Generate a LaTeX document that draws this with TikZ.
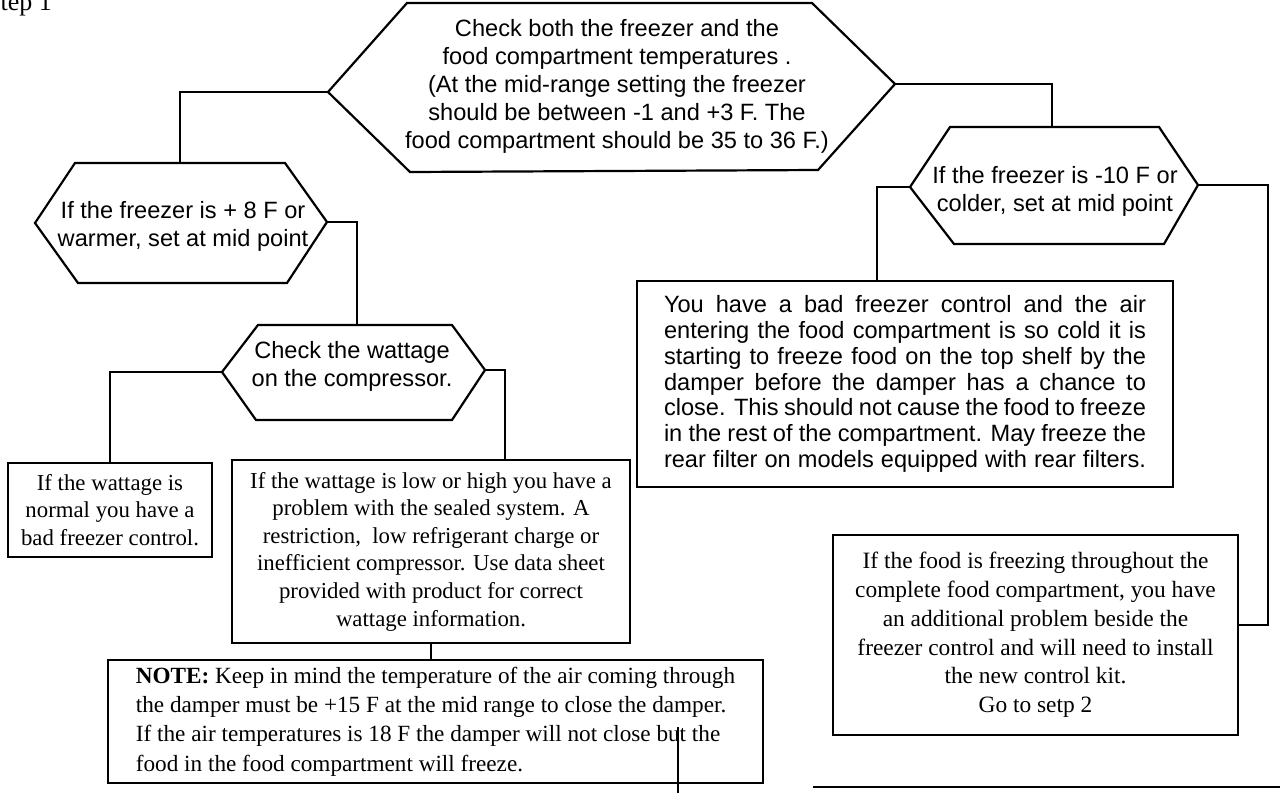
\documentclass[tikz,border=0pt]{standalone}
\usepackage{fontspec}
\setmainfont{Liberation Serif}
\setsansfont{Liberation Sans}
\begin{document}
\begin{tikzpicture}[x=0.5pt,y=-0.5pt, line width=1.1pt, line join=miter,
  sans/.style={font=\sffamily\fontsize{11.8}{14}\selectfont, align=center, inner sep=0pt},
  serif/.style={font=\rmfamily\fontsize{11.4}{13.8}\selectfont, align=center, inner sep=0pt},
  boxnode/.style={draw, rectangle, inner sep=0pt, line width=1.1pt},
  hexline/.style={draw, line width=1.1pt},
  conn/.style={line width=1.1pt}]
\useasboundingbox[fill=white] (0,0) rectangle (1280,793);

% Step label (partly cut at top)
\node[anchor=base west, font=\rmfamily\fontsize{13}{15}\selectfont, inner sep=0pt] (step) at (-15,10) {Step 1};

% ---- top hexagon
\coordinate (h0tl) at (407,3);
\coordinate (h0tr) at (812,3);
\coordinate (h0r) at (895,84);
\coordinate (h0br) at (818,170);
\coordinate (h0bl) at (410,172);
\coordinate (h0l) at (328,92);
\draw[hexline] (h0tl)--(h0tr)--(h0r)--(h0br)--(h0bl)--(h0l)--cycle;
\node[sans] (h0) at (617,86) {Check both the freezer and the\\food compartment temperatures .\\(At the mid-range setting the freezer\\should be between -1 and +3 F. The\\food compartment should be 35 to 36 F.)};

% ---- left hexagon
\coordinate (h1tl) at (75,163);
\coordinate (h1tr) at (285,163);
\coordinate (h1r) at (327,222);
\coordinate (h1br) at (287,283);
\coordinate (h1bl) at (78,283);
\coordinate (h1l) at (35,223);
\draw[hexline] (h1tl)--(h1tr)--(h1r)--(h1br)--(h1bl)--(h1l)--cycle;
\node[sans] (h1) at (183,226) {If the freezer is + 8 F or\\warmer, set at mid point};

% ---- wattage hexagon
\coordinate (h2tl) at (258,325);
\coordinate (h2tr) at (452,325);
\coordinate (h2r) at (485,370);
\coordinate (h2br) at (452,420);
\coordinate (h2bl) at (256,420);
\coordinate (h2l) at (222,372);
\draw[hexline] (h2tl)--(h2tr)--(h2r)--(h2br)--(h2bl)--(h2l)--cycle;
\node[sans] (h2) at (352,366) {Check the wattage\\on the compressor.};

% ---- right hexagon
\coordinate (h3tl) at (950,127);
\coordinate (h3tr) at (1159,127);
\coordinate (h3r) at (1198,185);
\coordinate (h3br) at (1164,244);
\coordinate (h3bl) at (954,244);
\coordinate (h3l) at (910,187);
\draw[hexline] (h3tl)--(h3tr)--(h3r)--(h3br)--(h3bl)--(h3l)--cycle;
\node[sans] (h3) at (1055,191) {If the freezer is -10 F or\\colder, set at mid point};

% ---- boxes
\node[boxnode, serif, minimum width=102pt, minimum height=47pt] (b1) at (110,510)
  {If the wattage is\\normal you have a\\bad freezer control.};
\node[boxnode, serif, minimum width=199pt, minimum height=91.5pt] (b2) at (431,551.5)
  {If the wattage is low or high you have a\\problem with the sealed system. A\\restriction,\ \ low refrigerant charge or\\inefficient compressor. Use data sheet\\provided with product for correct\\wattage information.};
\node[boxnode, font=\rmfamily\fontsize{11.6}{14.6}\selectfont, align=left, minimum width=327.5pt, minimum height=61.5pt] (note) at (435.5,721.5)
  {\textbf{NOTE:} Keep in mind the temperature of the air coming through\\the damper must be +15 F at the mid range to close the damper.\\If the air temperatures is 18 F the damper will not close but the\\food in the food compartment will freeze.};
\node[boxnode, font=\rmfamily\fontsize{11.7}{14.4}\selectfont, align=center, minimum width=202.5pt, minimum height=100pt] (b3) at (1035.5,635)
  {If the food is freezing throughout the\\complete food compartment, you have\\an additional problem beside the\\freezer control and will need to install\\the new control kit.\\Go to setp 2};
\node[boxnode, font=\sffamily\fontsize{11.8}{12.9}\selectfont, align=left, minimum width=268pt, minimum height=103pt] (b4) at (905,384)
  {\makebox[241pt][s]{You have a bad freezer control and the air}\\
   \makebox[241pt][s]{entering the food compartment is so cold it is}\\
   \makebox[241pt][s]{starting to freeze food on the top shelf by the}\\
   \makebox[241pt][s]{damper before the damper has a chance to}\\
   \makebox[241pt][s]{close. This should not cause the food to freeze}\\
   \makebox[241pt][s]{in the rest of the compartment. May freeze the}\\
   \makebox[241pt][s]{rear filter on models equipped with rear filters.}};

% ---- connectors
\coordinate (h1top) at (180,163);
\draw[conn] (h0l) -| (h1top);
\coordinate (h3top) at (1052,127);
\draw[conn] (h0r) -| (h3top);
\coordinate (h2top) at (357,325);
\draw[conn] (h1r) -| (h2top);
\draw[conn] (h2l) -| (b1.north);
\coordinate (b2in) at (505,460);
\draw[conn] (h2r) -| (b2in);
\draw[conn] (b2.south) -- (b2.south |- note.north);
\coordinate (b4in) at (877,281);
\draw[conn] (h3l) -| (b4in);
\coordinate (c8) at (1268,625);
\draw[conn] (h3r) -| (c8) -- (c8 -| b3.east);

% ---- stray lines
\coordinate (s1) at (678,727);
\coordinate (s2) at (678,793);
\draw[line width=0.6pt] (s1) -- (s2);
\coordinate (bl1) at (813,787);
\coordinate (bl2) at (1280,787);
\draw[line width=1pt] (bl1) -- (bl2);
\end{tikzpicture}
\end{document}
